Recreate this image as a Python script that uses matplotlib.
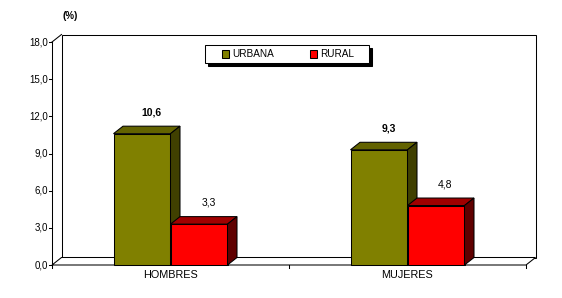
import matplotlib
matplotlib.use("Agg")
import matplotlib.pyplot as plt
from matplotlib.patches import Polygon, Rectangle

categories = ["HOMBRES", "MUJERES"]
series_names = ["URBANA", "RURAL"]
urbana = [10.6, 9.3]
rural = [3.3, 4.8]
yticks = [0, 3, 6, 9, 12, 15, 18]
ytick_labels = ["0,0", "3,0", "6,0", "9,0", "12,0", "15,0", "18,0"]

W, H = 562, 298
fig = plt.figure(figsize=(W / 100, H / 100), dpi=100)
fig.patch.set_facecolor("white")
FONT = "Liberation Sans"

# front plane in pixels
x0p, x1p, y0p, y1p = 52, 526, 265, 42
ax = fig.add_axes([x0p / W, (H - y0p) / H, (x1p - x0p) / W, (y0p - y1p) / H])
ax.set_xlim(-0.5, 1.5)
ax.set_ylim(0, 18)
ax.axis("off")

pxx = 2.0 / (x1p - x0p)
pxy = 18.0 / (y0p - y1p)
DX = 9.5 * pxx
DY = 7.5 * pxy
lw = 0.75

def poly(pts, fc, z=2, ec="black"):
    ax.add_patch(Polygon(pts, closed=True, facecolor=fc, edgecolor=ec,
                         linewidth=lw, clip_on=False, zorder=z, joinstyle="miter"))

xmin, xmax = -0.5, 1.5
# back wall
poly([(xmin + DX, DY), (xmax + DX, DY), (xmax + DX, 18 + DY), (xmin + DX, 18 + DY)], "white", 1)
# left wall (lines only)
ax.plot([xmin, xmin], [0, 18], color="black", lw=lw, clip_on=False, zorder=1)
ax.plot([xmin, xmin + DX], [18, 18 + DY], color="black", lw=lw, clip_on=False, zorder=1)
# floor
poly([(xmin, 0), (xmax, 0), (xmax + DX, DY), (xmin + DX, DY)], "white", 1)

# ticks
for t, lab in zip(yticks, ytick_labels):
    ax.plot([xmin - 3 * pxx, xmin], [t, t], color="black", lw=lw, clip_on=False, zorder=1)
    ax.text(xmin - 4 * pxx, t, lab, ha="right", va="center", fontsize=7,
            family=FONT)
for xt in [-0.5, 0.5, 1.5]:
    ax.plot([xt, xt], [0, -3 * pxy], color="black", lw=lw, clip_on=False, zorder=1)
for i, c in enumerate(categories):
    ax.text(i, -5 * pxy, c, ha="center", va="top", fontsize=7.8, family=FONT)

bw = 57 * pxx
colors = {
    "URBANA": ("#808000", "#636300", "#404000"),
    "RURAL": ("#FF0000", "#A00000", "#600000"),
}

def bar3d(xl, h, name, z):
    front, top, side = colors[name]
    ax.bar(xl, h, width=bw, align="edge", color=front, edgecolor="black",
           linewidth=lw, zorder=z, clip_on=False)
    xr = xl + bw
    poly([(xl, h), (xr, h), (xr + DX, h + DY), (xl + DX, h + DY)], top, z)
    poly([(xr, 0), (xr + DX, DY), (xr + DX, h + DY), (xr, h)], side, z)

for i in range(len(categories)):
    bar3d(i - bw, urbana[i], "URBANA", 3)
    bar3d(i, rural[i], "RURAL", 4)
    ax.text(i - bw / 2 + DX, urbana[i] + DY + 14 * pxy, f"{urbana[i]:.1f}".replace(".", ","),
            ha="center", va="center", fontsize=7.5, fontweight="bold", family=FONT)
    ax.text(i + bw / 2 + DX, rural[i] + DY + 14 * pxy, f"{rural[i]:.1f}".replace(".", ","),
            ha="center", va="center", fontsize=7.5, family=FONT)

fig.text(70 / W, 1 - 16 / H, "(%)", ha="center", va="center", fontsize=7,
         fontweight="bold", family=FONT)

# legend
lx0, lx1, ly0, ly1 = 205, 369, 45, 63
fig.patches.append(Rectangle(((lx0 + 3) / W, (H - ly1 - 3) / H), (lx1 - lx0) / W, (ly1 - ly0) / H,
                             transform=fig.transFigure, facecolor="black", edgecolor="black",
                             linewidth=lw, zorder=5))
fig.patches.append(Rectangle((lx0 / W, (H - ly1) / H), (lx1 - lx0) / W, (ly1 - ly0) / H,
                             transform=fig.transFigure, facecolor="white", edgecolor="black",
                             linewidth=lw, zorder=6))
items = [(222, series_names[0], "#808000"), (310, series_names[1], "#FF0000")]
ly = (ly0 + ly1) / 2
for xs, name, col in items:
    fig.patches.append(Rectangle((xs / W, (H - ly - 3.5) / H), 7 / W, 7 / H,
                                 transform=fig.transFigure, facecolor=col,
                                 edgecolor="black", linewidth=lw, zorder=7))
    fig.text((xs + 10) / W, 1 - ly / H, name, ha="left", va="center", fontsize=7.2,
             family=FONT, zorder=8)

fig.savefig("out.png", dpi=100, facecolor="white")
